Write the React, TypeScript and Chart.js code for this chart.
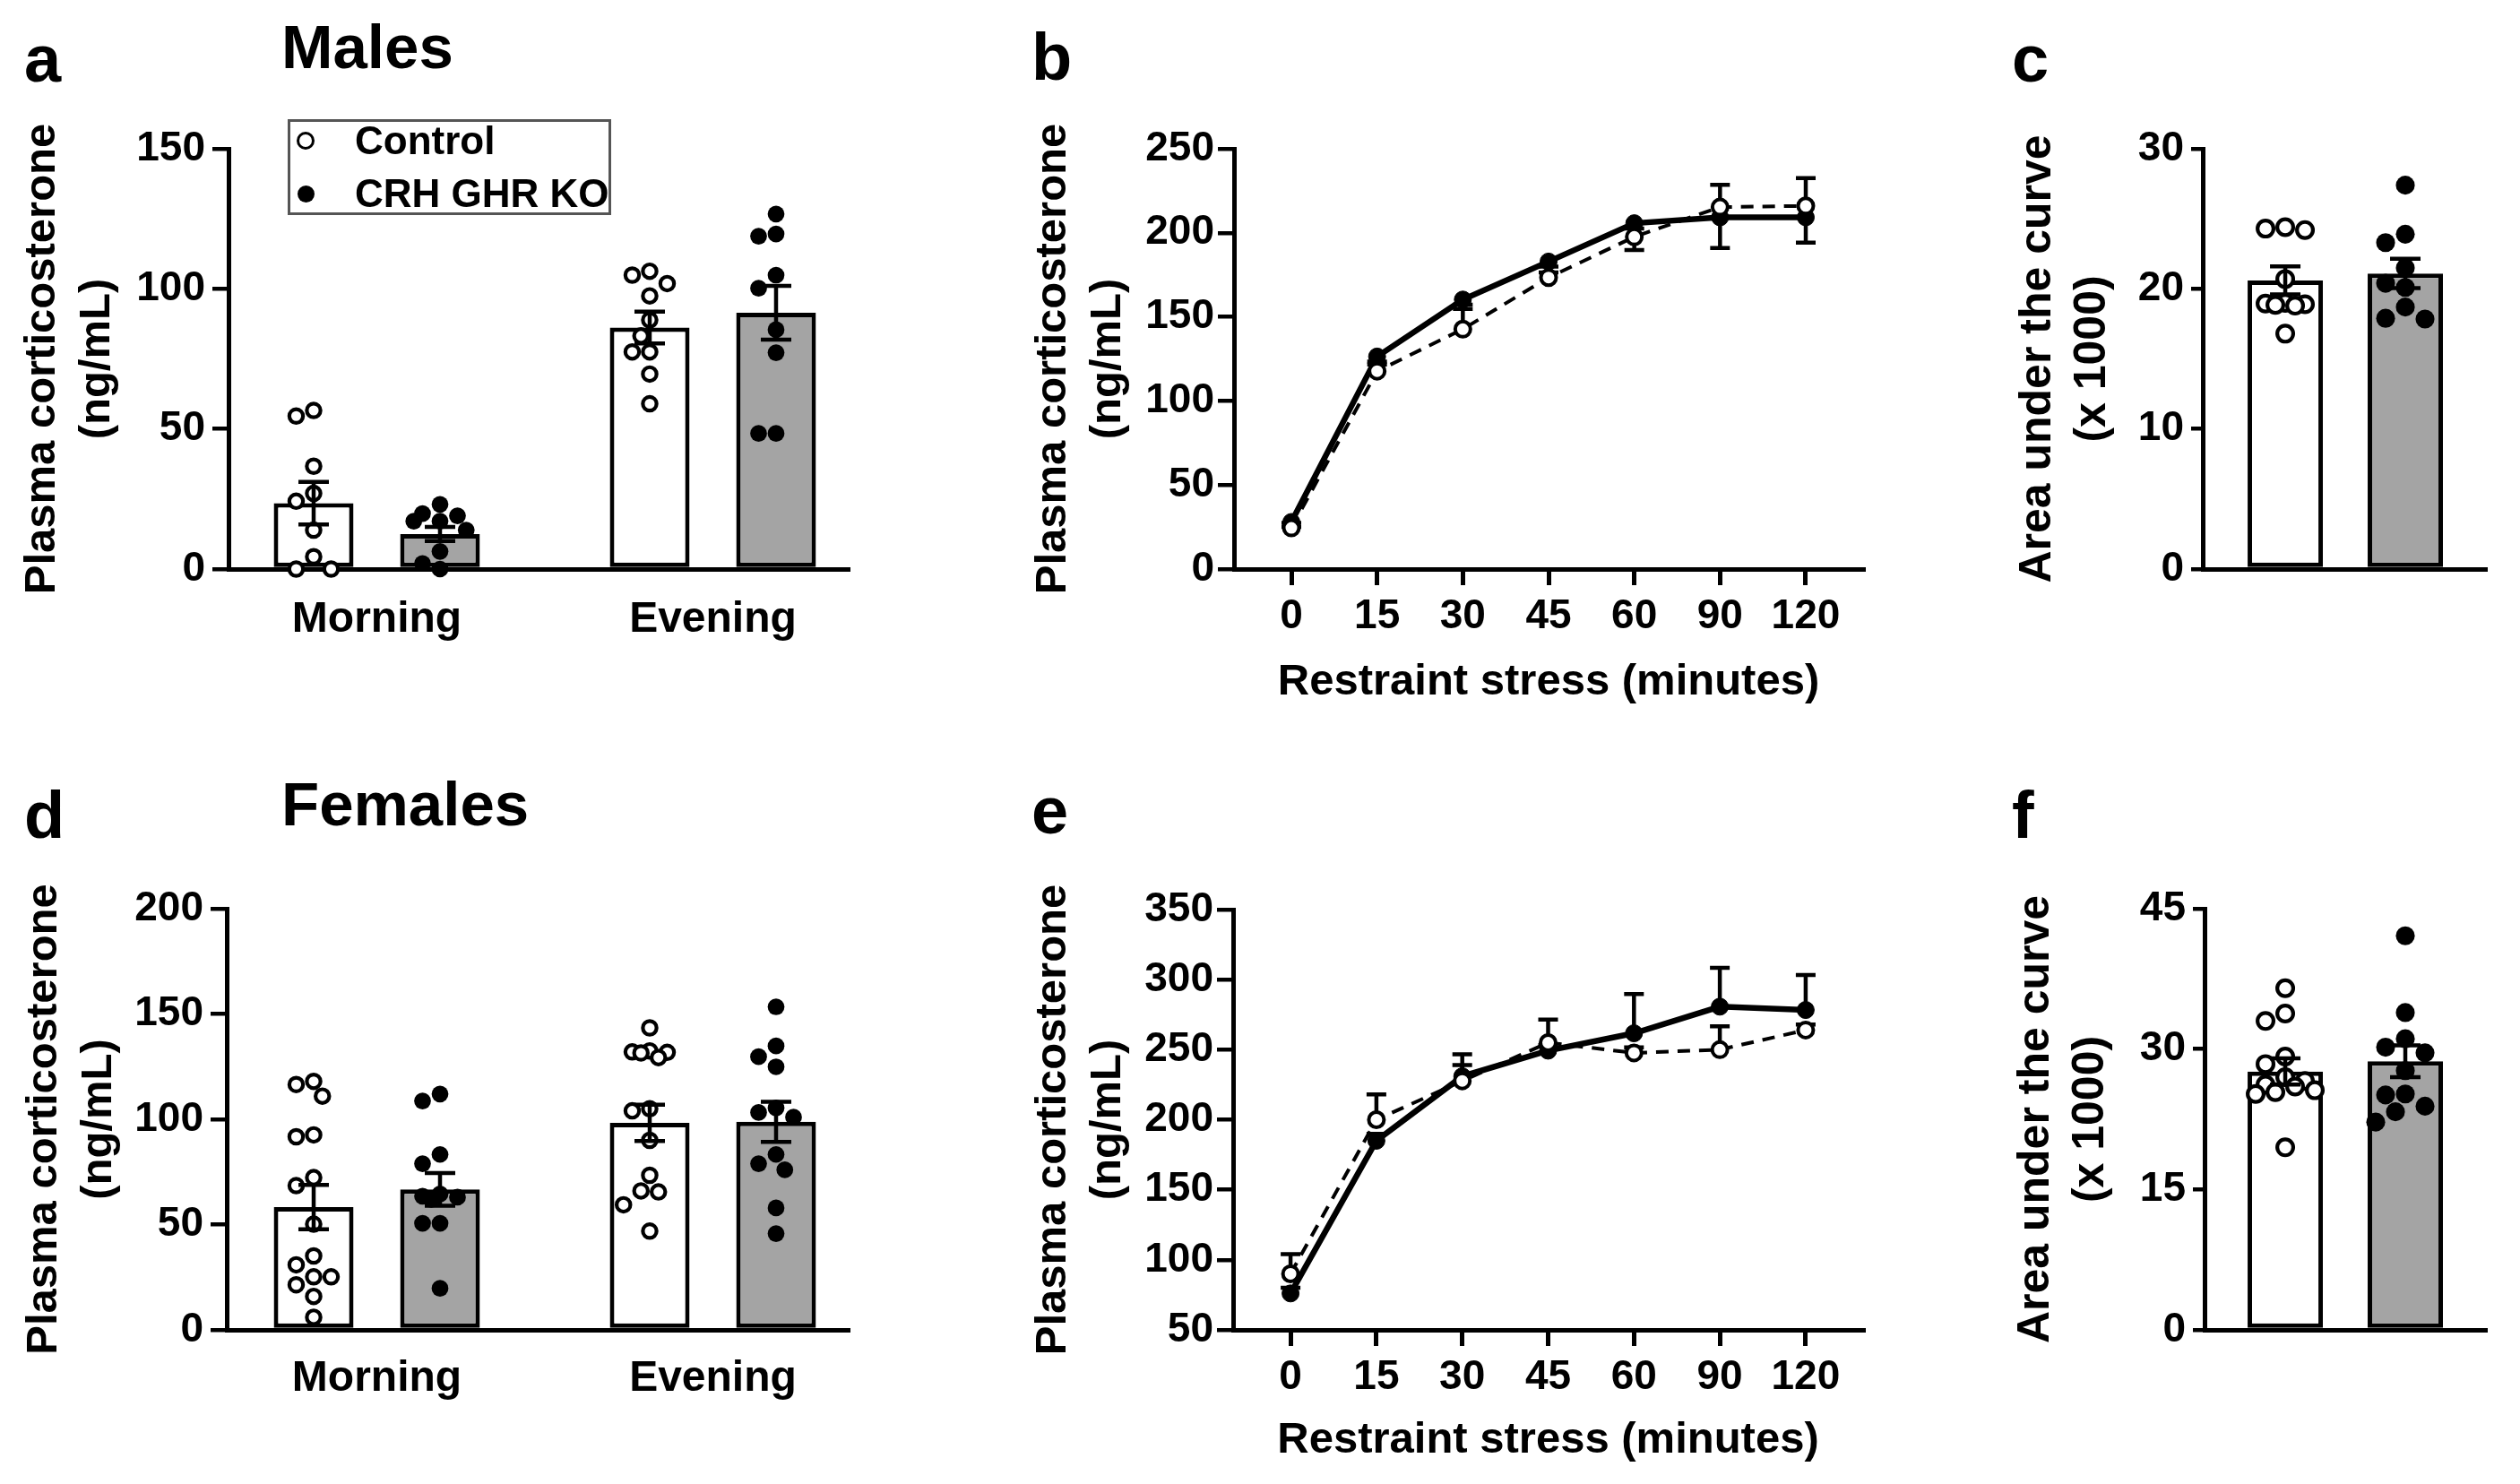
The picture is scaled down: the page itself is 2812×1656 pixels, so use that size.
import React, { useEffect, useRef } from "react";
import { Chart, registerables } from "chart.js";

Chart.register(...registerables);

const FONT = "'Liberation Sans', Arial, Helvetica, sans-serif";
Chart.defaults.font.family = FONT;
Chart.defaults.color = "#000";

// ---------------- data ----------------
const timeOfDay = ["Morning", "Evening"];
const groupNames = ["Control", "CRH GHR KO"];
const minutes = ["0", "15", "30", "45", "60", "90", "120"];

// (a) males, morning / evening plasma corticosterone (ng/mL)
const maleCtrlMean = [23.5, 86.2];
const maleCtrlSem = [7.6, 5.7];
const maleKoMean = [12.5, 91.5];
const maleKoSem = [2.5, 9.6];
const maleCtrlMorning = [56.6, 54.6, 36.7, 27.0, 24.2, 13.9, 4.4, 0, 0];
const maleKoMorning = [23.1, 19.8, 19.0, 17.1, 17.1, 13.9, 6.3, 2.0, 0];
const maleCtrlEvening = [106.3, 104.9, 101.9, 97.5, 88.9, 83.2, 77.5, 77.5, 69.6, 59.0];
const maleKoEvening = [126.7, 119.6, 118.8, 104.9, 100.2, 85.4, 77.2, 48.4, 48.4];

// (b) males, restraint stress time course
const maleCtrlTime = [24.5, 117.7, 142.7, 173.4, 197.6, 215.3, 216];
const maleCtrlTimeSem = [3, 4, 12, 3, 5, 13.3, 16.5];
const maleKoTime = [28, 126.4, 160.3, 182.9, 205.7, 209.2, 209.2];
const maleKoTimeSem = [3, 3, 3, 3, 16, 18.2, 15];

// (c) males, area under the curve (x 1000)
const maleAucMean = [20.6, 21.1];
const maleAucSem = [1.0, 1.05];
const maleAucCtrl = [24.4, 24.3, 24.2, 20.7, 19.0, 18.95, 18.9, 18.85, 18.8, 16.8];
const maleAucKo = [27.4, 23.9, 23.3, 21.5, 20.4, 20.1, 18.7, 17.9, 17.85];

// (d) females, morning / evening
const femaleCtrlMean = [58.3, 98.3];
const femaleCtrlSem = [10.5, 8.6];
const femaleKoMean = [66.7, 98.8];
const femaleKoSem = [7.8, 9.5];
const femaleCtrlMorning = [118, 116.5, 111, 92.6, 91.7, 72.3, 68.5, 50.2, 35.1, 30.9, 25.2, 25.2, 21.4, 15.9, 6];
const femaleKoMorning = [112, 108.7, 83.3, 78.9, 64.5, 63.5, 63, 62, 50.6, 50.6, 19.7];
const femaleCtrlEvening = [143.4, 132.5, 132, 131.8, 131.5, 129.3, 105, 104, 90, 73.4, 66, 65.5, 59.4, 46.9];
const femaleKoEvening = [153.4, 134.8, 129.7, 124.9, 105.4, 103.2, 101, 83.3, 78.9, 76, 57.9, 45.7];

// (e) females, restraint stress time course
const femaleCtrlTime = [90, 200, 227.7, 255, 247.7, 250, 264];
const femaleCtrlTimeSem = [14, 18, 19, 16.5, 4, 16.7, 4];
const femaleKoTime = [76, 185, 231, 249.3, 261.7, 280.7, 278.3];
const femaleKoTimeSem = [4, 5, 8, 4, 28, 27.7, 25];

// (f) females, area under the curve (x 1000)
const femaleAucMean = [27.6, 28.7];
const femaleAucSem = [1.4, 1.7];
const femaleAucCtrl = [36.5, 33.8, 33.0, 29.2, 28.4, 27.0, 26.6, 26.2, 26.0, 25.6, 25.4, 25.2, 19.5];
const femaleAucKo = [42.1, 33.9, 31.1, 30.2, 29.6, 27.7, 25.2, 25.1, 23.9, 23.3, 22.2];

const yTitleConc = ["Plasma corticosterone", "(ng/mL)"];
const yTitleAuc = ["Area under the curve", "(x 1000)"];
const xTitleTime = "Restraint stress (minutes)";

// ---------------- styling ----------------
const GRAY = "#a4a4a4";

// simple beeswarm (bounded width): horizontal offsets so that dots overlap as little as possible
function swarm(ys: number[], minD: number, step: number, maxOff: number): number[] {
  const order = ys.map((_, i) => i).sort((a, b) => ys[a] - ys[b]);
  const placed: { x: number; y: number }[] = [];
  const offs = new Array(ys.length).fill(0);
  const cands: number[] = [0];
  for (let k = 1; (k * step) / 2 <= maxOff + 0.01; k++) cands.push((-k * step) / 2, (k * step) / 2);
  for (const i of order) {
    const y = ys[i];
    let best = 0;
    let bestD = -1;
    for (const c of cands) {
      const d = placed.reduce((m, p) => Math.min(m, Math.hypot(p.x - c, p.y - y)), Infinity);
      if (d >= minD) {
        best = c;
        bestD = Infinity;
        break;
      }
      if (d > bestD + 0.5) {
        bestD = d;
        best = c;
      }
    }
    placed.push({ x: best, y });
    offs[i] = best;
  }
  return offs;
}

const dotsPlugin = {
  id: "dotsAndSem",
  afterDatasetsDraw(chart: any, _args: any, opts: any) {
    const ctx = chart.ctx;
    const ys = chart.scales.y;
    const size = opts.dot || 19;
    chart.data.datasets.forEach((ds: any, i: number) => {
      const meta = chart.getDatasetMeta(i);
      meta.data.forEach((el: any, j: number) => {
        const cx = el.x;
        const vals: number[] = ds.pts[j];
        const filled: boolean = ds.filled[j];
        const py = vals.map((v) => ys.getPixelForValue(v));
        const offs = swarm(py, size * 0.97, size, el.width / 2 - 6);
        ctx.save();
        vals.forEach((_, k) => {
          ctx.beginPath();
          if (filled) {
            ctx.arc(cx + offs[k], py[k], size * 0.48, 0, Math.PI * 2);
            ctx.fillStyle = "#000";
            ctx.fill();
          } else {
            ctx.arc(cx + offs[k], py[k], size * 0.5 - 2.1, 0, Math.PI * 2);
            ctx.fillStyle = "#fff";
            ctx.fill();
            ctx.lineWidth = 4.2;
            ctx.strokeStyle = "#000";
            ctx.stroke();
          }
        });
        const m = ds.data[j].y;
        const s = ds.sem[j];
        const yt = ys.getPixelForValue(m + s);
        const yb = ys.getPixelForValue(m - s);
        ctx.strokeStyle = "#000";
        ctx.lineWidth = 4.5;
        ctx.beginPath();
        ctx.moveTo(cx, yt);
        ctx.lineTo(cx, yb);
        ctx.moveTo(cx - 17, yt);
        ctx.lineTo(cx + 17, yt);
        ctx.moveTo(cx - 17, yb);
        ctx.lineTo(cx + 17, yb);
        ctx.stroke();
        ctx.restore();
      });
    });
  },
};

const lineErrPlugin = {
  id: "lineSem",
  beforeDatasetsDraw(chart: any) {
    const ctx = chart.ctx;
    const ys = chart.scales.y;
    chart.data.datasets.forEach((ds: any, i: number) => {
      const meta = chart.getDatasetMeta(i);
      meta.data.forEach((pt: any, j: number) => {
        const e = ds.err[j];
        if (!e) return;
        const y2 = ys.getPixelForValue(ds.data[j].y + ds.errDir * e);
        ctx.save();
        ctx.setLineDash([]);
        ctx.strokeStyle = "#000";
        ctx.lineWidth = 4.5;
        ctx.beginPath();
        ctx.moveTo(pt.x, pt.y);
        ctx.lineTo(pt.x, y2);
        ctx.moveTo(pt.x - 11, y2);
        ctx.lineTo(pt.x + 11, y2);
        ctx.stroke();
        ctx.restore();
      });
    });
  },
};

function yScale(o: {
  min: number; max: number; step: number; width: number; title: string[];
  titlePad: number; titleSize: number; tickLen: number; tickPad: number;
}) {
  return {
    type: "linear",
    position: "left",
    min: o.min,
    max: o.max,
    bounds: "data",
    afterFit: (s: any) => { s.width = o.width; },
    ticks: { stepSize: o.step, color: "#000", padding: o.tickPad, font: { size: 46, weight: "bold" } },
    grid: { display: true, drawOnChartArea: false, drawTicks: true, tickLength: o.tickLen, color: "#000", lineWidth: 4.5 },
    border: { display: true, color: "#000", width: 5 },
    title: {
      display: true,
      text: o.title,
      color: "#000",
      padding: { top: o.titlePad, bottom: 0 },
      font: { size: o.titleSize, weight: "bold", lineHeight: 61 / o.titleSize },
    },
  };
}

function xScale(o: {
  min: number; max: number; values: number[]; labels: string[] | null; height: number;
  tickLen: number; labelPad: number; labelSize: number; title?: string; titlePadBottom?: number;
}) {
  return {
    type: "linear",
    position: "bottom",
    min: o.min,
    max: o.max,
    offset: false,
    bounds: "data",
    afterBuildTicks: (s: any) => { s.ticks = o.values.map((v) => ({ value: v })); },
    afterFit: (s: any) => { s.height = o.height; },
    ticks: {
      display: !!o.labels,
      autoSkip: false,
      maxRotation: 0,
      minRotation: 0,
      padding: o.labelPad,
      color: "#000",
      font: { size: o.labelSize, weight: "bold" },
      callback: (v: any) => (o.labels ? o.labels[v] : ""),
    },
    grid: o.tickLen > 0
      ? { display: true, drawOnChartArea: false, drawTicks: true, tickLength: o.tickLen, color: "#000", lineWidth: 5, offset: false }
      : { display: false, drawTicks: false },
    border: { display: true, color: "#000", width: 5 },
    title: o.title
      ? { display: true, text: o.title, color: "#000", padding: { top: 0, bottom: o.titlePadBottom || 0 }, font: { size: 49, weight: "bold", lineHeight: 1.2 } }
      : { display: false },
  };
}

const baseOptions = (pad: { top: number; right: number; bottom: number }, dot?: number) => ({
  responsive: false,
  animation: false,
  events: [],
  layout: { padding: { left: 0, top: pad.top, right: pad.right, bottom: pad.bottom } },
  plugins: { legend: { display: false }, tooltip: { enabled: false }, title: { display: false }, dotsAndSem: { dot } },
});

function dayNightConfig(p: {
  ctrlMean: number[]; ctrlSem: number[]; koMean: number[]; koSem: number[];
  ctrlPts: number[][]; koPts: number[][]; yMax: number; yStep: number;
  axisW: number; titlePad: number; xMin: number; xMax: number;
  pad: { top: number; right: number; bottom: number }; labelPad: number;
}) {
  return {
    type: "bar",
    data: {
      datasets: [
        {
          label: groupNames[0],
          data: p.ctrlMean.map((m, i) => ({ x: i, y: m })),
          sem: p.ctrlSem, pts: p.ctrlPts, filled: [false, false],
          backgroundColor: "#fff", borderColor: "#000", borderWidth: 5, borderSkipped: false,
          categoryPercentage: 0.752, barPercentage: 0.631,
        },
        {
          label: groupNames[1],
          data: p.koMean.map((m, i) => ({ x: i, y: m })),
          sem: p.koSem, pts: p.koPts, filled: [true, true],
          backgroundColor: GRAY, borderColor: "#000", borderWidth: 5, borderSkipped: false,
          categoryPercentage: 0.752, barPercentage: 0.631,
        },
      ],
    },
    options: {
      ...baseOptions(p.pad, 19.5),
      scales: {
        x: xScale({ min: p.xMin, max: p.xMax, values: [0, 1], labels: timeOfDay, height: 160, tickLen: 0, labelPad: p.labelPad, labelSize: 48 }),
        y: yScale({ min: 0, max: p.yMax, step: p.yStep, width: p.axisW, title: yTitleConc, titlePad: p.titlePad, titleSize: 49, tickLen: 18, tickPad: 8 }),
      },
    },
    plugins: [dotsPlugin],
  };
}

function aucConfig(p: {
  mean: number[]; sem: number[]; ctrlPts: number[]; koPts: number[]; yMax: number; yStep: number;
  axisW: number; titlePad: number; xMin: number; xMax: number; pad: { top: number; right: number; bottom: number };
}) {
  return {
    type: "bar",
    data: {
      labels: groupNames,
      datasets: [
        {
          label: "AUC",
          data: p.mean.map((m, i) => ({ x: i, y: m })),
          sem: p.sem, pts: [p.ctrlPts, p.koPts], filled: [false, true],
          backgroundColor: ["#fff", GRAY], borderColor: "#000", borderWidth: 5, borderSkipped: false,
          categoryPercentage: 1, barPercentage: 0.627,
        },
      ],
    },
    options: {
      ...baseOptions(p.pad, 22),
      scales: {
        x: xScale({ min: p.xMin, max: p.xMax, values: [0, 1], labels: null, height: 160, tickLen: 0, labelPad: 0, labelSize: 46 }),
        y: yScale({ min: 0, max: p.yMax, step: p.yStep, width: p.axisW, title: yTitleAuc, titlePad: p.titlePad, titleSize: 50, tickLen: 13, tickPad: 8 }),
      },
    },
    plugins: [dotsPlugin],
  };
}

function timeConfig(p: {
  ctrl: number[]; ctrlSem: number[]; ctrlDir: number; ko: number[]; koSem: number[]; koDir: number;
  yMin: number; yMax: number; axisW: number; titlePad: number;
  pad: { top: number; right: number; bottom: number }; xTitlePad: number;
}) {
  return {
    type: "line",
    data: {
      datasets: [
        {
          label: groupNames[0],
          data: p.ctrl.map((v, i) => ({ x: i, y: v })),
          err: p.ctrlSem, errDir: p.ctrlDir,
          borderColor: "#000", borderWidth: 4, borderDash: [14, 10], tension: 0, fill: false,
          pointRadius: 8.5, pointBorderWidth: 4, pointBackgroundColor: "#fff", pointBorderColor: "#000",
          clip: false,
        },
        {
          label: groupNames[1],
          data: p.ko.map((v, i) => ({ x: i, y: v })),
          err: p.koSem, errDir: p.koDir,
          borderColor: "#000", borderWidth: 6.5, tension: 0, fill: false,
          pointRadius: 9.5, pointBorderWidth: 1, pointBackgroundColor: "#000", pointBorderColor: "#000",
          clip: false,
        },
      ],
    },
    options: {
      ...baseOptions(p.pad),
      scales: {
        x: xScale({ min: -0.669, max: 6.669, values: minutes.map((_, i) => i), labels: minutes, height: 160, tickLen: 18, labelPad: 8, labelSize: 46, title: xTitleTime, titlePadBottom: p.xTitlePad }),
        y: yScale({ min: p.yMin, max: p.yMax, step: 50, width: p.axisW, title: yTitleConc, titlePad: p.titlePad, titleSize: 49, tickLen: 18, tickPad: 4 }),
      },
    },
    plugins: [lineErrPlugin],
  };
}

function ChartBox({ left, top, width, height, build }: { left: number; top: number; width: number; height: number; build: () => any }) {
  const ref = useRef<HTMLCanvasElement>(null);
  useEffect(() => {
    const chart = new Chart(ref.current as HTMLCanvasElement, build());
    return () => chart.destroy();
  }, []);
  return <canvas ref={ref} width={width} height={height} style={{ position: "absolute", left, top, width, height }} />;
}

function Label({ text, left, baseline, size }: { text: string; left: number; baseline: number; size: number }) {
  return (
    <div
      style={{
        position: "absolute",
        left,
        top: baseline - 0.8465 * size,
        fontFamily: FONT,
        fontWeight: "bold",
        fontSize: size,
        lineHeight: `${size}px`,
        whiteSpace: "nowrap",
        color: "#000",
      }}
    >
      {text}
    </div>
  );
}

export default function App() {
  return (
    <div style={{ position: "fixed", left: 0, top: 0, width: 2812, height: 1656, background: "#fff", overflow: "hidden" }}>
      {/* a */}
      <ChartBox left={0} top={100} width={980} height={700} build={() => dayNightConfig({
        ctrlMean: maleCtrlMean, ctrlSem: maleCtrlSem, koMean: maleKoMean, koSem: maleKoSem,
        ctrlPts: [maleCtrlMorning, maleCtrlEvening], koPts: [maleKoMorning, maleKoEvening],
        yMax: 150, yStep: 50, axisW: 255, titlePad: 17, xMin: -0.4413, xMax: 1.4067,
        pad: { top: 66, right: 32, bottom: 5 }, labelPad: 28,
      })} />
      {/* b */}
      <ChartBox left={1100} top={100} width={1010} height={700} build={() => timeConfig({
        ctrl: maleCtrlTime, ctrlSem: maleCtrlTimeSem, ctrlDir: 1, ko: maleKoTime, koSem: maleKoTimeSem, koDir: -1,
        yMin: 0, yMax: 250, axisW: 277, titlePad: 45, pad: { top: 66, right: 31, bottom: 5 }, xTitlePad: 4,
      })} />
      {/* c */}
      <ChartBox left={2200} top={100} width={612} height={700} build={() => aucConfig({
        mean: maleAucMean, sem: maleAucSem, ctrlPts: maleAucCtrl, koPts: maleAucKo, yMax: 30, yStep: 10,
        axisW: 258, titlePad: 44, xMin: -0.687, xMax: 1.679, pad: { top: 66, right: 37, bottom: 5 },
      })} />
      {/* d */}
      <ChartBox left={0} top={950} width={980} height={706} build={() => dayNightConfig({
        ctrlMean: femaleCtrlMean, ctrlSem: femaleCtrlSem, koMean: femaleKoMean, koSem: femaleKoSem,
        ctrlPts: [femaleCtrlMorning, femaleCtrlEvening], koPts: [femaleKoMorning, femaleKoEvening],
        yMax: 200, yStep: 50, axisW: 253, titlePad: 19, xMin: -0.4467, xMax: 1.4067,
        pad: { top: 64, right: 32, bottom: 12 }, labelPad: 26,
      })} />
      {/* e */}
      <ChartBox left={1100} top={950} width={1010} height={706} build={() => timeConfig({
        ctrl: femaleCtrlTime, ctrlSem: femaleCtrlTimeSem, ctrlDir: 1, ko: femaleKoTime, koSem: femaleKoTimeSem, koDir: 1,
        yMin: 50, yMax: 350, axisW: 276, titlePad: 45, pad: { top: 65, right: 31, bottom: 12 }, xTitlePad: 7,
      })} />
      {/* f */}
      <ChartBox left={2200} top={950} width={612} height={706} build={() => aucConfig({
        mean: femaleAucMean, sem: femaleAucSem, ctrlPts: femaleAucCtrl, koPts: femaleAucKo, yMax: 45, yStep: 15,
        axisW: 260, titlePad: 42, xMin: -0.672, xMax: 1.679, pad: { top: 64, right: 37, bottom: 12 },
      })} />

      {/* panel letters and headings */}
      <Label text="a" left={27} baseline={92} size={74} />
      <Label text="b" left={1151} baseline={90} size={74} />
      <Label text="c" left={2245} baseline={92} size={74} />
      <Label text="d" left={27} baseline={936} size={74} />
      <Label text="e" left={1151} baseline={931} size={74} />
      <Label text="f" left={2245} baseline={936} size={74} />
      <Label text="Males" left={314} baseline={76} size={69} />
      <Label text="Females" left={314} baseline={921} size={69} />

      {/* legend */}
      <div style={{ position: "absolute", left: 321, top: 133, width: 361, height: 107, border: "3px solid #555", boxSizing: "border-box", background: "#fff" }} />
      <div style={{ position: "absolute", left: 331, top: 147, width: 20, height: 20, boxSizing: "border-box", border: "3.5px solid #000", borderRadius: "50%", background: "#fff" }} />
      <div style={{ position: "absolute", left: 331.5, top: 206.5, width: 19, height: 19, borderRadius: "50%", background: "#000" }} />
      <Label text={groupNames[0]} left={396} baseline={172} size={44} />
      <Label text={groupNames[1]} left={396} baseline={231} size={44} />
    </div>
  );
}
